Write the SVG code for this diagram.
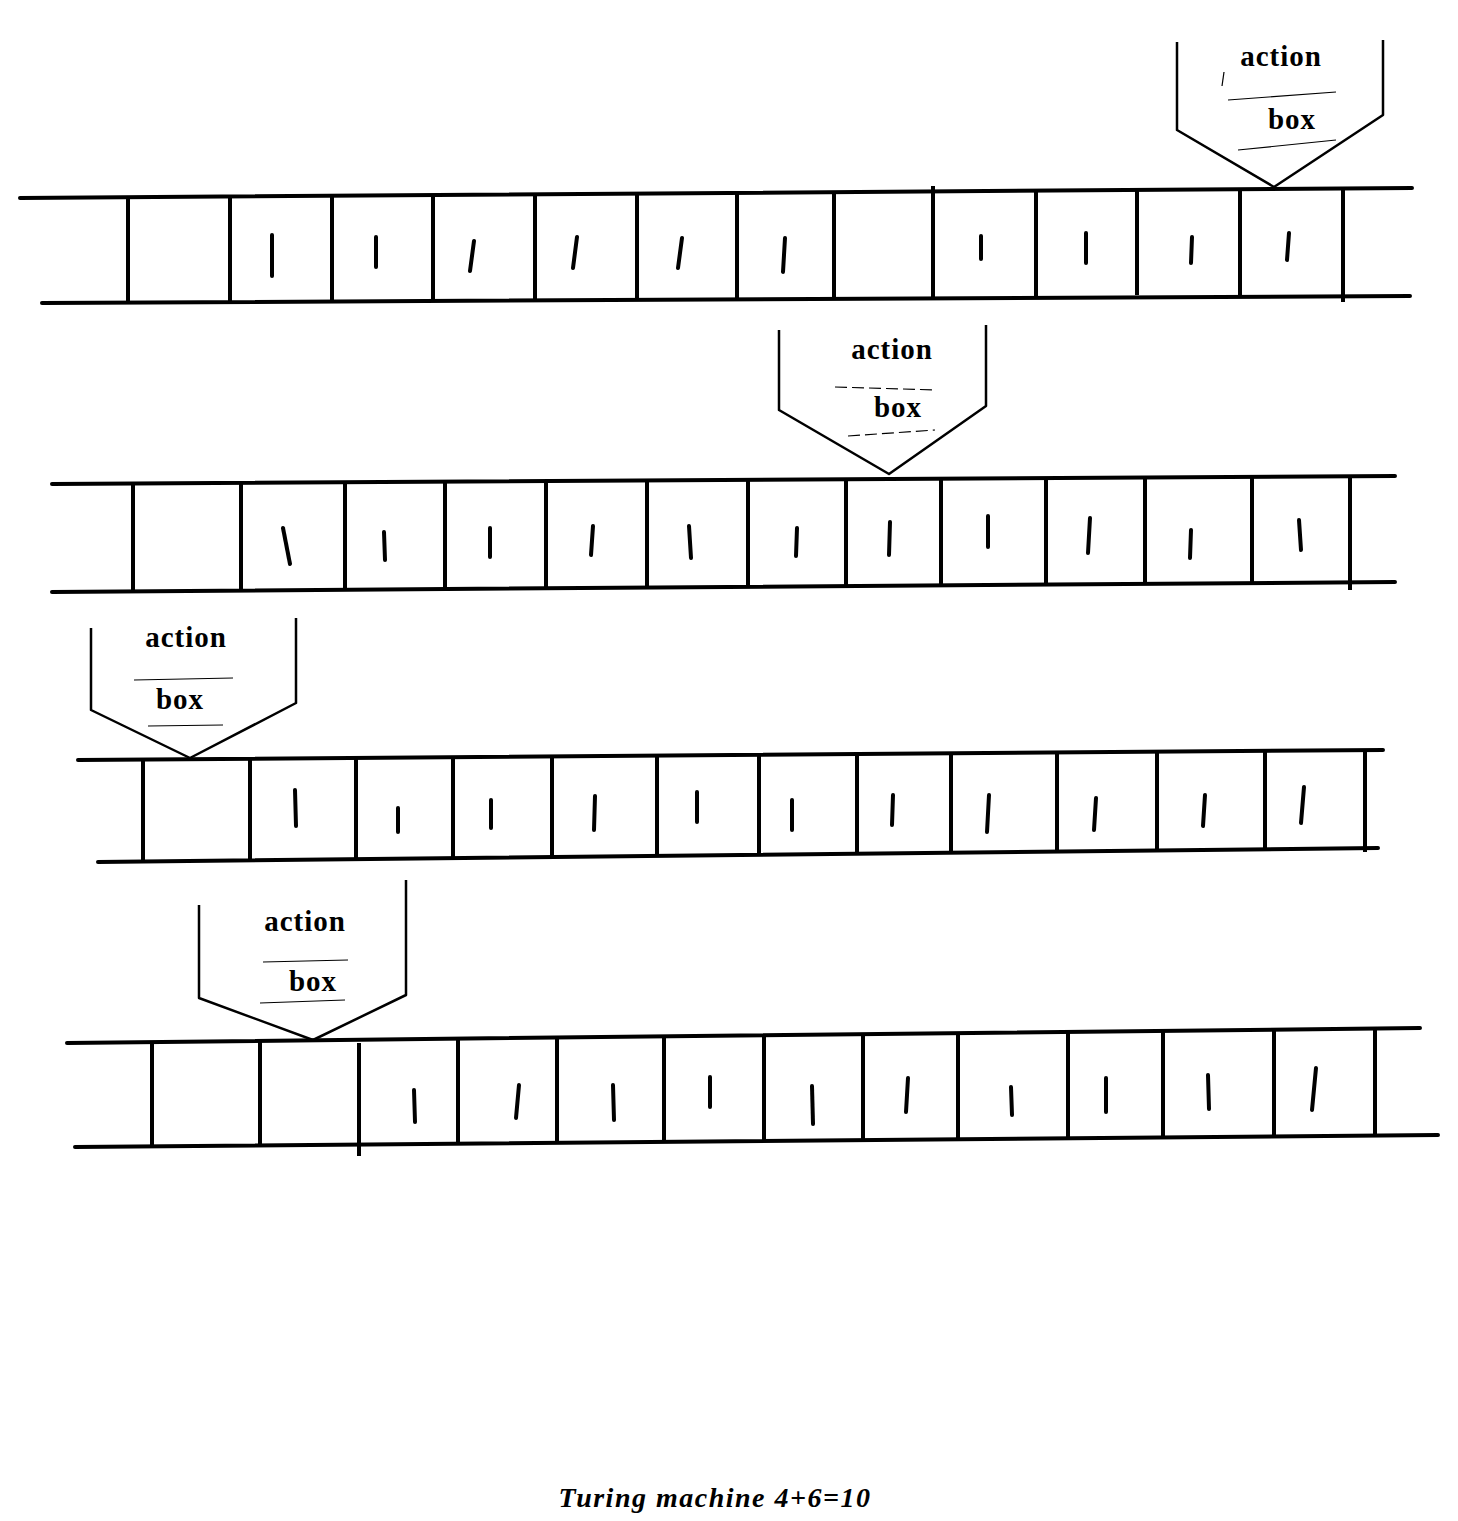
<svg xmlns="http://www.w3.org/2000/svg" width="1458" height="1521" viewBox="0 0 1458 1521">
<style>
.bg{fill:#fff}
.rail{stroke:#000;stroke-width:4;fill:none;stroke-linecap:round}
.div{stroke:#000;stroke-width:4;fill:none}
.mark{stroke:#000;stroke-width:4;stroke-linecap:round}
.head{stroke:#000;stroke-width:2.5;fill:none;stroke-linejoin:round}
.uline{stroke:#000;stroke-width:1.2}
.dash{stroke:#000;stroke-width:1.2;stroke-dasharray:12 5}
.lbl{font-family:"Liberation Serif","DejaVu Serif",serif;font-weight:bold;font-size:29px;letter-spacing:1px;fill:#000;text-anchor:middle}
.cap{font-family:"Liberation Serif","DejaVu Serif",serif;font-style:italic;font-weight:bold;font-size:28px;letter-spacing:1.5px;fill:#000;text-anchor:middle}
</style>
<rect class="bg" width="1458" height="1521"/>

<g id="tape1">
<path class="rail" d="M20 198 L1412 188"/>
<path class="rail" d="M42 303 L1410 296"/>
<path class="div" d="M128 197 V302 M230 196 V301 M332 195 V300 M433 194 V300 M535 194 V299 M637 193 V299 M737 192 V298 M834 191 V297 M933 186 V297 M1036 189 V296 M1137 188 V295 M1240 188 V295 M1343 188 V302"/>
<line class="mark" x1="272" y1="235" x2="272" y2="276"/>
<line class="mark" x1="376" y1="237" x2="376" y2="267"/>
<line class="mark" x1="474" y1="241" x2="470" y2="271"/>
<line class="mark" x1="577" y1="237" x2="573" y2="268"/>
<line class="mark" x1="682" y1="238" x2="678" y2="268"/>
<line class="mark" x1="785" y1="238" x2="783" y2="272"/>
<line class="mark" x1="981" y1="236" x2="981" y2="259"/>
<line class="mark" x1="1086" y1="233" x2="1086" y2="263"/>
<line class="mark" x1="1192" y1="237" x2="1191" y2="263"/>
<line class="mark" x1="1289" y1="233" x2="1287" y2="260"/>
</g>

<g id="head1">
<path class="head" d="M1177 42 V130 L1274 187 L1383 115 V40"/>
<text class="lbl" x="1281" y="66">action</text>
<line class="uline" x1="1228" y1="100" x2="1336" y2="92"/>
<text class="lbl" x="1292" y="129">box</text>
<line class="uline" x1="1238" y1="150" x2="1336" y2="140"/>
<line class="uline" x1="1224" y1="72" x2="1222" y2="86"/>
</g>

<g id="tape2">
<path class="rail" d="M52 484 L1395 476"/>
<path class="rail" d="M52 592 L1395 582"/>
<path class="div" d="M133 485 V592 M241 484 V591 M345 483 V590 M445 482 V589 M546 481 V588 M647 481 V588 M748 480 V587 M846 480 V587 M941 479 V586 M1046 479 V585 M1145 478 V584 M1252 477 V584 M1350 477 V590"/>
<line class="mark" x1="283" y1="528" x2="290" y2="564"/>
<line class="mark" x1="384" y1="532" x2="385" y2="560"/>
<line class="mark" x1="490" y1="528" x2="490" y2="557"/>
<line class="mark" x1="593" y1="526" x2="591" y2="555"/>
<line class="mark" x1="689" y1="526" x2="691" y2="558"/>
<line class="mark" x1="797" y1="528" x2="796" y2="556"/>
<line class="mark" x1="890" y1="522" x2="889" y2="555"/>
<line class="mark" x1="988" y1="516" x2="988" y2="547"/>
<line class="mark" x1="1090" y1="518" x2="1088" y2="553"/>
<line class="mark" x1="1191" y1="530" x2="1190" y2="558"/>
<line class="mark" x1="1299" y1="520" x2="1301" y2="550"/>
</g>

<g id="head2">
<path class="head" d="M779 330 V410 L889 474 L986 406 V325"/>
<text class="lbl" x="892" y="359">action</text>
<line class="dash" x1="835" y1="387" x2="937" y2="390"/>
<text class="lbl" x="898" y="417">box</text>
<line class="dash" x1="848" y1="436" x2="935" y2="430"/>
</g>

<g id="tape3">
<path class="rail" d="M78 760 L1383 750"/>
<path class="rail" d="M98 862 L1378 848"/>
<path class="div" d="M143 760 V862 M250 759 V860 M356 758 V859 M453 757 V858 M552 757 V857 M657 756 V856 M759 755 V855 M857 755 V854 M951 754 V853 M1057 753 V852 M1157 752 V851 M1265 751 V850 M1365 751 V852"/>
<line class="mark" x1="295" y1="790" x2="296" y2="826"/>
<line class="mark" x1="398" y1="808" x2="398" y2="832"/>
<line class="mark" x1="491" y1="800" x2="491" y2="828"/>
<line class="mark" x1="595" y1="796" x2="594" y2="830"/>
<line class="mark" x1="697" y1="792" x2="697" y2="822"/>
<line class="mark" x1="792" y1="800" x2="792" y2="830"/>
<line class="mark" x1="893" y1="795" x2="892" y2="825"/>
<line class="mark" x1="989" y1="795" x2="987" y2="832"/>
<line class="mark" x1="1096" y1="798" x2="1094" y2="830"/>
<line class="mark" x1="1205" y1="795" x2="1203" y2="826"/>
<line class="mark" x1="1304" y1="787" x2="1301" y2="823"/>
</g>

<g id="head3">
<path class="head" d="M91 628 V710 L190 758 L296 703 V618"/>
<text class="lbl" x="186" y="647">action</text>
<line class="uline" x1="134" y1="680" x2="233" y2="678"/>
<text class="lbl" x="180" y="709">box</text>
<line class="uline" x1="148" y1="726" x2="223" y2="725"/>
</g>

<g id="tape4">
<path class="rail" d="M67 1043 L1420 1028"/>
<path class="rail" d="M75 1147 L1438 1135"/>
<path class="div" d="M152 1042 V1147 M260 1041 V1146 M359 1043 V1156 M458 1039 V1144 M557 1038 V1143 M664 1036 V1142 M764 1035 V1141 M863 1034 V1140 M958 1033 V1139 M1068 1032 V1138 M1163 1031 V1137 M1274 1030 V1136 M1375 1029 V1136"/>
<line class="mark" x1="414" y1="1090" x2="415" y2="1122"/>
<line class="mark" x1="519" y1="1085" x2="516" y2="1118"/>
<line class="mark" x1="613" y1="1085" x2="614" y2="1120"/>
<line class="mark" x1="710" y1="1077" x2="710" y2="1107"/>
<line class="mark" x1="812" y1="1086" x2="813" y2="1124"/>
<line class="mark" x1="908" y1="1078" x2="906" y2="1112"/>
<line class="mark" x1="1011" y1="1087" x2="1012" y2="1115"/>
<line class="mark" x1="1106" y1="1078" x2="1106" y2="1112"/>
<line class="mark" x1="1208" y1="1075" x2="1209" y2="1109"/>
<line class="mark" x1="1316" y1="1068" x2="1312" y2="1110"/>
</g>

<g id="head4">
<path class="head" d="M199 905 V998 L313 1040 L406 995 V880"/>
<text class="lbl" x="305" y="931">action</text>
<line class="uline" x1="263" y1="962" x2="348" y2="960"/>
<text class="lbl" x="313" y="991">box</text>
<line class="uline" x1="260" y1="1003" x2="345" y2="1000"/>
</g>

<g id="caption">
<text class="cap" x="715" y="1507">Turing machine 4+6=10</text>
</g>
</svg>
